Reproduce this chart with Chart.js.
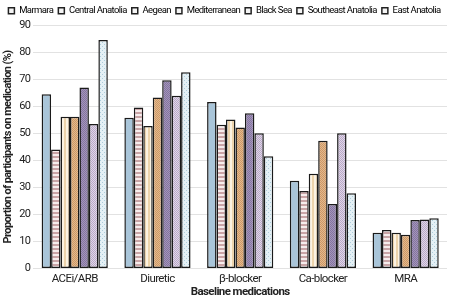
<!DOCTYPE html>
<html>
<head>
<meta charset="utf-8">
<script src="https://cdn.jsdelivr.net/npm/chart.js@4/dist/chart.umd.min.js"></script>
<style>
  html, body { margin: 0; padding: 0; background: #fff; }
  #wrap { width: 450px; height: 299px; }
</style>
</head>
<body>
<div id="wrap"><canvas id="myChart" width="450" height="299"></canvas></div>
<script>
const categorias = ["ACEi/ARB", "Diuretic", "β-blocker", "Ca-blocker", "MRA"];
const regiones = ["Marmara", "Central Anatolia", "Aegean", "Mediterranean", "Black Sea", "Southeast Anatolia", "East Anatolia"];
const marmara = [64.5, 55.8, 61.7, 32.5, 13.2];
const centralAnatolia = [44.1, 59.6, 53.2, 28.7, 14.2];
const aegean = [56.2, 52.8, 55.2, 35.1, 13.2];
const mediterranean = [56.2, 63.3, 52.2, 47.3, 12.5];
const blackSea = [67.0, 69.7, 57.5, 23.9, 17.9];
const southeastAnatolia = [53.5, 64.0, 50.1, 50.1, 18.1];
const eastAnatolia = [84.6, 72.7, 41.6, 27.8, 18.6];
const yTicks = [0, 10, 20, 30, 40, 50, 60, 70, 80, 90];

const fuente = "Roboto, sans-serif";

// patrones de relleno
function patron(fondo, tinta, tipo) {
  const c = document.createElement("canvas");
  c.width = 4;
  c.height = 4;
  const ctx = c.getContext("2d");
  ctx.fillStyle = fondo;
  ctx.fillRect(0, 0, 4, 4);
  ctx.fillStyle = tinta;
  if (tipo == "h") {
    ctx.fillRect(0, 0, 4, 2);
  } else if (tipo == "v") {
    ctx.fillRect(0, 0, 2, 4);
  } else if (tipo == "d") {
    ctx.fillRect(0, 0, 1, 1);
    ctx.fillRect(2, 2, 1, 1);
  } else if (tipo == "c") {
    ctx.fillRect(0, 0, 1, 1);
    ctx.fillRect(2, 0, 1, 1);
    ctx.fillRect(1, 1, 1, 1);
    ctx.fillRect(3, 1, 1, 1);
    ctx.fillRect(0, 2, 1, 1);
    ctx.fillRect(2, 2, 1, 1);
    ctx.fillRect(1, 3, 1, 1);
    ctx.fillRect(3, 3, 1, 1);
  }
  return c.getContext("2d").createPattern(c, "repeat");
}

const rellenos = [
  "#a9c5d9",
  patron("#f6ecec", "#c9a4a6", "h"),
  patron("#fbf2e2", "#ecd3ab", "v"),
  patron("#e4b98b", "#cc9868", "c"),
  patron("#a394ba", "#8475a0", "c"),
  patron("#e0d6e7", "#b9a9c8", "c"),
  patron("#e4f0f5", "#aecddb", "d"),
];
const valores = [marmara, centralAnatolia, aegean, mediterranean, blackSea, southeastAnatolia, eastAnatolia];

const datasets = regiones.map((nombre, i) => ({
  label: nombre,
  data: valores[i],
  backgroundColor: rellenos[i],
  borderColor: "#1a1a1a",
  borderWidth: 1.5,
  borderSkipped: false,
  categoryPercentage: 0.8,
  barPercentage: 1.0,
}));

// letra estrecha: se aprieta el espaciado de todo el texto
const estrecho = {
  id: "estrecho",
  beforeLayout(chart) {
    chart.ctx.letterSpacing = "-0.6px";
  },
  beforeDraw(chart) {
    chart.ctx.letterSpacing = "-0.6px";
  },
};

const grafico = new Chart(document.getElementById("myChart"), {
  type: "bar",
  data: { labels: categorias, datasets },
  plugins: [estrecho],
  options: {
    responsive: false,
    animation: false,
    layout: { padding: { left: 2, right: 3, top: 1, bottom: 0 } },
    plugins: {
      tooltip: { enabled: false },
      legend: {
        position: "top",
        align: "center",
        labels: {
          boxWidth: 6,
          boxHeight: 6,
          padding: 5,
          color: "#222",
          font: { family: fuente, size: 9.5 },
          generateLabels: (chart) =>
            chart.data.datasets.map((ds, i) => ({
              text: ds.label,
              fillStyle: "#f4f4f4",
              strokeStyle: "#222",
              lineWidth: 1.5,
              datasetIndex: i,
            })),
        },
      },
    },
    scales: {
      x: {
        grid: { display: false, drawTicks: false },
        border: { display: false },
        ticks: { color: "#222", font: { family: fuente, size: 11.5 }, padding: 4 },
        title: {
          display: true,
          text: "Baseline medications",
          color: "#222",
          font: { family: fuente, size: 11.5, weight: "bold" },
          padding: { top: -5, bottom: 0 },
        },
      },
      y: {
        min: 0,
        max: 90,
        afterBuildTicks: (axis) => {
          axis.ticks = yTicks.map((v) => ({ value: v }));
        },
        grid: { color: "#e2e2e2", lineWidth: 1, drawTicks: false },
        border: { display: false },
        ticks: { color: "#222", font: { family: fuente, size: 11 }, padding: 3 },
        title: {
          display: true,
          text: "Proportion of participants on medication (%)",
          color: "#222",
          font: { family: fuente, size: 11, weight: "bold" },
          padding: { top: 0, bottom: 1 },
        },
      },
    },
  },
});
</script>
</body>
</html>
